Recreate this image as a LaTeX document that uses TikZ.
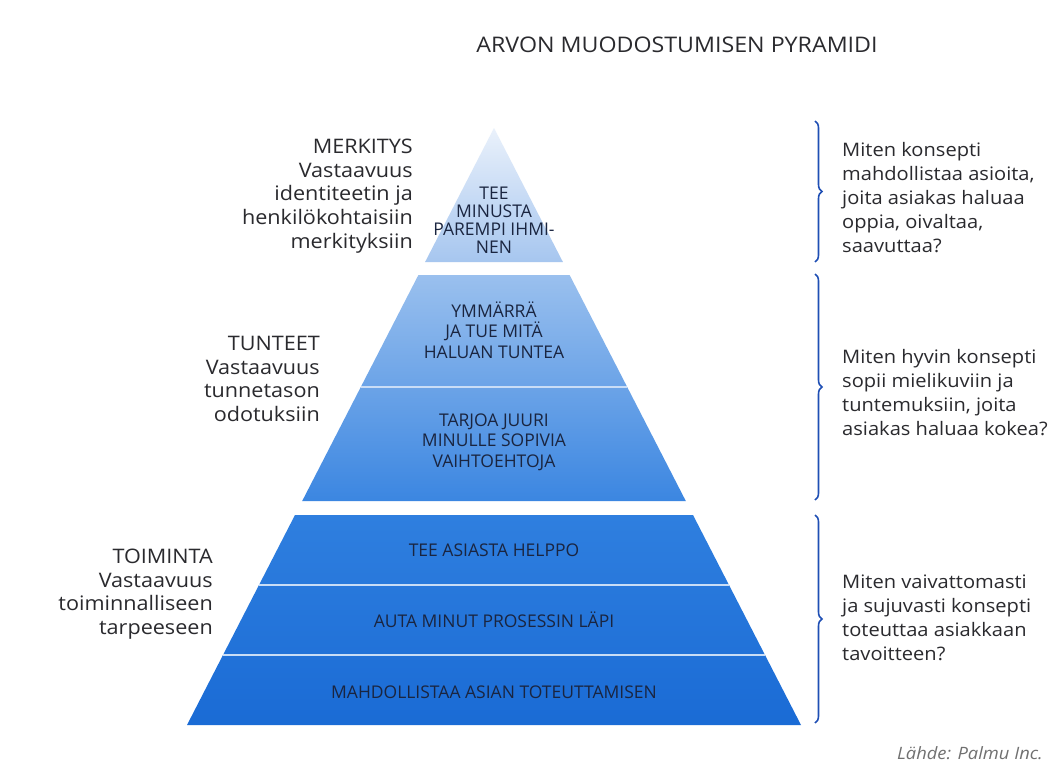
\documentclass[tikz,border=0pt]{standalone}
\usepackage{fontspec}
\setmainfont[FakeStretch=1.08]{Open Sans}
\newfontfamily\pyrfont{Open Sans}
\usetikzlibrary{decorations.pathreplacing}
\definecolor{c0}{HTML}{EAF1FB}
\definecolor{c1}{HTML}{A6C6EF}
\definecolor{c2}{HTML}{9AC0EE}
\definecolor{c3}{HTML}{3B86E1}
\definecolor{c4}{HTML}{2F7FDF}
\definecolor{c5}{HTML}{1A6BD5}
\definecolor{sepcol}{HTML}{C9DDF6}
\definecolor{txtgrey}{HTML}{2A2A2E}
\definecolor{navytxt}{HTML}{1A2540}
\definecolor{bracecol}{HTML}{1F4FB4}
\definecolor{srcgrey}{HTML}{707070}
\begin{document}
\begin{tikzpicture}[x=1pt,y=-1pt,
  lefttext/.style={align=right, anchor=east, text=txtgrey, inner sep=0pt,
    font=\fontsize{20}{23.7}\selectfont},
  righttext/.style={align=left, anchor=west, text=txtgrey, inner sep=0pt,
    font=\fontsize{18.6}{24}\selectfont},
  pyrtext/.style={align=center, text=navytxt, inner sep=0pt,
    font=\pyrfont\fontsize{17.5}{20.5}\selectfont},
  sepline/.style={draw=sepcol, line width=1.8pt},
  bracestyle/.style={draw=bracecol, line width=1.6pt, decorate,
    decoration={brace, amplitude=7pt}}]
\useasboundingbox (0,0) rectangle (1053,784);
\fill[white] (0,0) rectangle (1053,784);

% title
\node[text=txtgrey, font=\fontsize{21.5}{24}\selectfont, inner sep=0pt] (title) at (677,45) {ARVON MUODOSTUMISEN PYRAMIDI};

% pyramid bands
\shade[top color=c0, bottom color=c1] (494,128) -- (562.9,262) -- (425.1,262) -- cycle;
\shade[top color=c2, bottom color=c3] (418.4,275) -- (569.6,275) -- (685.8,501) -- (302.2,501) -- cycle;
\shade[top color=c4, bottom color=c5] (295,515) -- (693,515) -- (801,725) -- (187,725) -- cycle;

% separator lines
\draw[sepline] (360.8,387) -- (627.2,387);
\draw[sepline] (259,585) -- (729,585);
\draw[sepline] (223,655) -- (765,655);

% pyramid texts
\node[pyrtext, font=\pyrfont\fontsize{17.5}{18}\selectfont] (p1) at (494,220) {TEE\\MINUSTA\\PAREMPI IHMI-\\NEN};
\node[pyrtext] (p2) at (494,330) {YMMÄRRÄ\\JA TUE MITÄ\\HALUAN TUNTEA};
\node[pyrtext] (p3) at (494,442) {TARJOA JUURI\\MINULLE SOPIVIA\\VAIHTOEHTOJA};
\node[pyrtext] (p4) at (494,550) {TEE ASIASTA HELPPO};
\node[pyrtext] (p5) at (494,620) {AUTA MINUT PROSESSIN LÄPI};
\node[pyrtext] (p6) at (494,692) {MAHDOLLISTAA ASIAN TOTEUTTAMISEN};

% left labels
\node[lefttext] (l1) at (413,196) {MERKITYS\\Vastaavuus\\identiteetin ja\\henkilökohtaisiin\\merkityksiin};
\node[lefttext] (l2) at (320,379) {TUNTEET\\Vastaavuus\\tunnetason\\odotuksiin};
\node[lefttext] (l3) at (213,594) {TOIMINTA\\Vastaavuus\\toiminnalliseen\\tarpeeseen};

% braces
\coordinate (b1t) at (815,121);
\coordinate (b1b) at (815,262);
\coordinate (b2t) at (815,274);
\coordinate (b2b) at (815,500);
\coordinate (b3t) at (815,515);
\coordinate (b3b) at (815,723);
\draw[bracestyle] (b1t) -- (b1b);
\draw[bracestyle] (b2t) -- (b2b);
\draw[bracestyle] (b3t) -- (b3b);

% right texts
\node[righttext] (r1) at (842,198) {Miten konsepti\\mahdollistaa asioita,\\joita asiakas haluaa\\oppia, oivaltaa,\\saavuttaa?};
\node[righttext] (r2) at (842,393) {Miten hyvin konsepti\\sopii mielikuviin ja\\tuntemuksiin, joita\\asiakas haluaa kokea?};
\node[righttext] (r3) at (842,618) {Miten vaivattomasti\\ja sujuvasti konsepti\\toteuttaa asiakkaan\\tavoitteen?};

% source
\node[anchor=east, text=srcgrey, inner sep=0pt, font=\fontsize{17}{20}\selectfont\itshape] (src) at (1043,753) {Lähde: Palmu Inc.};
\end{tikzpicture}
\end{document}
